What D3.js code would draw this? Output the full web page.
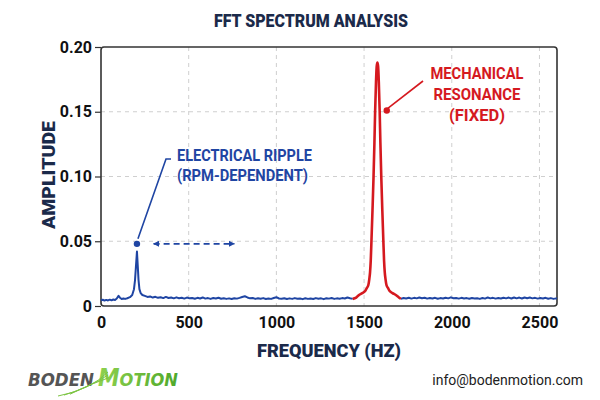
<!doctype html>
<html>
<head>
<meta charset="UTF-8">
<title>FFT Spectrum Analysis</title>
<script src="https://d3js.org/d3.v7.min.js"></script>
<style>
  body { margin: 0; background: #fff; }
  text { font-family: Roboto, "Liberation Sans", sans-serif; }
  .grid line { stroke: #cfcfcf; stroke-dasharray: 4,4; }
  .axis path { display: none; }
  .axis line { stroke: #333; stroke-width: 1.2; }
  .axis text { font-size: 16px; font-weight: bold; fill: #111; }
</style>
</head>
<body>
<svg id="chart" width="600" height="400"></svg>
<script>
// spectrum: [frequency Hz, amplitude]
var lowBand = [
  [0,.0045],[10,.0048],[20,.0042],[30,.0047],[40,.0043],[50,.0049],[60,.0044],[70,.0050],
  [80,.0047],[90,.0058],[100,.0078],[108,.0064],[118,.0054],[128,.0058],[138,.0055],[150,.0060],
  [165,.0068],[178,.0085],[188,.0130],[194,.0200],[199,.0300],[205,.0420],[210,.0300],[214,.0200],
  [219,.0130],[226,.0100],[236,.0085],[250,.0078],[265,.0070],[280,.0074],[295,.0065],[310,.0071],
  [325,.0063],[340,.0068],[355,.0061],[370,.0070],[385,.0062],[400,.0066],[415,.0059],[430,.0067],
  [445,.0060],[460,.0064],[475,.0057],[490,.0065],[505,.0059],[520,.0062],[535,.0056],[550,.0063],
  [565,.0058],[580,.0066],[595,.0057],[610,.0061],[625,.0055],[640,.0062],[655,.0058],[670,.0064],
  [685,.0056],[700,.0060],[715,.0055],[730,.0059],[745,.0054],[760,.0060],[775,.0057],[790,.0063],
  [805,.0070],[820,.0075],[835,.0066],[850,.0059],[865,.0062],[880,.0055],[895,.0060],[910,.0056],
  [925,.0061],[940,.0054],[955,.0058],[970,.0055],[985,.0062],[1000,.0068],[1015,.0058],[1030,.0056],
  [1045,.0060],[1060,.0054],[1075,.0059],[1090,.0055],[1105,.0061],[1120,.0056],[1135,.0058],[1150,.0053],
  [1165,.0060],[1180,.0055],[1195,.0058],[1210,.0054],[1225,.0061],[1240,.0056],[1255,.0059],[1270,.0053],
  [1285,.0060],[1300,.0057],[1315,.0062],[1330,.0055],[1345,.0059],[1360,.0056],[1375,.0061],[1390,.0058],
  [1405,.0066],[1420,.0060],[1435,.0055]
];

var resonance = [
  [1435,.0055],[1455,.0065],[1471,.0085],[1490,.0100],[1506,.0115],[1516,.0140],[1524,.0160],
  [1530,.0210],[1534,.0260],[1538,.0350],[1542,.0500],[1548,.0740],[1554,.1000],[1559,.1260],
  [1563,.1500],[1568,.1730],[1572,.1850],[1576,.1880],[1580,.1850],[1584,.1730],[1589,.1500],
  [1593,.1260],[1598,.1000],[1604,.0740],[1610,.0500],[1614,.0350],[1618,.0260],[1622,.0210],
  [1628,.0160],[1636,.0140],[1646,.0115],[1662,.0100],[1681,.0085],[1697,.0068],[1710,.0055]
];

var highBand = [
  [1710,.0055],[1725,.0062],[1740,.0058],[1755,.0064],[1770,.0057],[1785,.0063],[1800,.0059],
  [1815,.0066],[1830,.0060],[1845,.0064],[1860,.0057],[1875,.0062],[1890,.0058],[1905,.0063],
  [1920,.0056],[1935,.0061],[1950,.0058],[1965,.0064],[1980,.0059],[1995,.0067],[2010,.0060],
  [2025,.0062],[2040,.0057],[2055,.0063],[2070,.0058],[2085,.0061],[2100,.0056],[2115,.0062],
  [2130,.0058],[2145,.0060],[2160,.0055],[2175,.0062],[2190,.0057],[2205,.0066],[2220,.0059],
  [2235,.0063],[2250,.0057],[2265,.0061],[2280,.0058],[2295,.0064],[2310,.0059],[2325,.0065],
  [2340,.0058],[2355,.0066],[2370,.0059],[2385,.0065],[2400,.0058],[2415,.0066],[2430,.0060],
  [2445,.0065],[2460,.0059],[2475,.0063],[2490,.0057],[2505,.0062],[2520,.0058],[2535,.0063],
  [2550,.0056],[2565,.0061],[2580,.0055],[2595,.0059],[2600,.0057]
];

var xTicks = [0, 500, 1000, 1500, 2000, 2500];
var yTicks = [0, 0.05, 0.10, 0.15, 0.20];

// annotation anchors [freq, amplitude]
var ripplePoint = [205, 0.048];
var rippleArrow = [300, 760];
var resonancePoint = [1635, 0.151];

var BLUE = "#1f45a3", RED = "#d5191f", NAVY = "#1b2a4a";

var svg = d3.select("#chart");
var plotL = 101, plotR = 557, plotT = 47, plotB = 306;

var x = d3.scaleLinear().domain([0, 2600]).range([plotL, plotR]);
var y = d3.scaleLinear().domain([0, 0.20]).range([plotB, plotT]);

// title
svg.append("text")
    .attr("x", 311).attr("y", 27)
    .attr("text-anchor", "middle")
    .attr("textLength", 194).attr("lengthAdjust", "spacingAndGlyphs")
    .style("font-size", "19px").style("font-weight", "900")
    .style("fill", NAVY)
    .text("FFT SPECTRUM ANALYSIS");

// grid
var grid = svg.append("g").attr("class", "grid");
grid.selectAll(".gx").data(xTicks.slice(1)).enter().append("line")
    .attr("x1", function (d) { return x(d); }).attr("x2", function (d) { return x(d); })
    .attr("y1", plotT).attr("y2", plotB);
grid.selectAll(".gy").data(yTicks.slice(1, -1)).enter().append("line")
    .attr("y1", function (d) { return y(d); }).attr("y2", function (d) { return y(d); })
    .attr("x1", plotL).attr("x2", plotR);

// axes
svg.append("g").attr("class", "axis")
    .attr("transform", "translate(" + plotL + ",0)")
    .call(d3.axisLeft(y).tickValues(yTicks).tickSize(6).tickPadding(3)
        .tickFormat(function (d) { return d === 0 ? "0" : d3.format(".2f")(d); }));

svg.append("g").attr("class", "axis")
    .attr("transform", "translate(0," + plotB + ")")
    .call(d3.axisBottom(x).tickValues(xTicks).tickSize(0).tickPadding(11)
        .tickFormat(d3.format("d")));

// frame
svg.append("rect")
    .attr("x", plotL).attr("y", plotT)
    .attr("width", plotR - plotL).attr("height", plotB - plotT)
    .attr("rx", 3)
    .attr("fill", "none").attr("stroke", "#333").attr("stroke-width", 1.6);

// axis titles
svg.append("text")
    .attr("x", 329).attr("y", 357)
    .attr("text-anchor", "middle")
    .attr("textLength", 144).attr("lengthAdjust", "spacingAndGlyphs")
    .style("font-size", "19px").style("font-weight", "900").style("fill", NAVY)
    .text("FREQUENCY (HZ)");

svg.append("text")
    .attr("transform", "translate(55,175) rotate(-90)")
    .attr("text-anchor", "middle")
    .attr("textLength", 108).attr("lengthAdjust", "spacingAndGlyphs")
    .style("font-size", "19px").style("font-weight", "900").style("fill", NAVY)
    .text("AMPLITUDE");

// spectrum lines
var line = d3.line()
    .x(function (d) { return x(d[0]); })
    .y(function (d) { return y(d[1]); });

[lowBand, highBand].forEach(function (band) {
    svg.append("path").datum(band)
        .attr("d", line)
        .attr("fill", "none").attr("stroke", BLUE)
        .attr("stroke-width", 2).attr("stroke-linejoin", "round");
});

svg.append("path").datum(resonance)
    .attr("d", line.curve(d3.curveMonotoneX))
    .attr("fill", "none").attr("stroke", RED)
    .attr("stroke-width", 2.6).attr("stroke-linejoin", "round");

// electrical ripple annotation
var defs = svg.append("defs");
defs.append("marker").attr("id", "arrowBlue")
    .attr("viewBox", "0 0 10 10").attr("refX", 9).attr("refY", 5)
    .attr("markerWidth", 4).attr("markerHeight", 4)
    .attr("orient", "auto-start-reverse")
    .append("path").attr("d", "M0,0L10,5L0,10z").attr("fill", BLUE);

svg.append("polyline")
    .attr("points", [[x(ripplePoint[0]) + 1, y(ripplePoint[1]) - 5], [166, 159], [171, 159]].join(" "))
    .attr("fill", "none").attr("stroke", BLUE).attr("stroke-width", 1.6);
svg.append("circle")
    .attr("cx", x(ripplePoint[0])).attr("cy", y(ripplePoint[1]))
    .attr("r", 3.2).attr("fill", BLUE);
svg.append("line")
    .attr("x1", x(rippleArrow[0])).attr("x2", x(rippleArrow[1]))
    .attr("y1", y(ripplePoint[1])).attr("y2", y(ripplePoint[1]))
    .attr("stroke", BLUE).attr("stroke-width", 1.6)
    .attr("stroke-dasharray", "6,4")
    .attr("marker-start", "url(#arrowBlue)")
    .attr("marker-end", "url(#arrowBlue)");

var rippleText = svg.append("text")
    .attr("y", 161)
    .style("font-size", "16px").style("font-weight", "bold").style("fill", BLUE);
rippleText.append("tspan").attr("x", 177).attr("textLength", 135).attr("lengthAdjust", "spacingAndGlyphs").text("ELECTRICAL RIPPLE");
rippleText.append("tspan").attr("x", 177).attr("dy", 20).attr("textLength", 131).attr("lengthAdjust", "spacingAndGlyphs").text("(RPM-DEPENDENT)");

// mechanical resonance annotation
svg.append("line")
    .attr("x1", x(resonancePoint[0])).attr("y1", y(resonancePoint[1]) - 2)
    .attr("x2", 423).attr("y2", 81)
    .attr("stroke", RED).attr("stroke-width", 1.6);
svg.append("circle")
    .attr("cx", x(resonancePoint[0]) - 1).attr("cy", y(resonancePoint[1]))
    .attr("r", 3.2).attr("fill", RED);

var resText = svg.append("text")
    .attr("text-anchor", "middle")
    .style("font-size", "16px").style("font-weight", "bold").style("fill", RED);
[["MECHANICAL", 93], ["RESONANCE", 87], ["(FIXED)", 56]].forEach(function (t, i) {
    resText.append("tspan").attr("x", 477).attr("y", 79 + i * 21)
        .attr("textLength", t[1]).attr("lengthAdjust", "spacingAndGlyphs").text(t[0]);
});

// footer logo
var logo = svg.append("g").attr("transform", "translate(28,0)");
logo.append("text")
    .attr("x", 0).attr("y", 386)
    .attr("textLength", 66).attr("lengthAdjust", "spacingAndGlyphs")
    .style("font-family", "'DejaVu Sans', sans-serif")
    .style("font-size", "18px").style("font-weight", "bold").style("font-style", "italic")
    .style("fill", "#555")
    .text("BODEN");
var grad = defs.append("linearGradient").attr("id", "greenGrad")
    .attr("x1", 0).attr("y1", 0).attr("x2", 1).attr("y2", 0);
grad.append("stop").attr("offset", "0%").attr("stop-color", "#8fd14f");
grad.append("stop").attr("offset", "100%").attr("stop-color", "#4fa82a");
logo.append("text")
    .attr("x", 70).attr("y", 386)
    .attr("textLength", 80).attr("lengthAdjust", "spacingAndGlyphs")
    .style("font-family", "'DejaVu Sans', sans-serif")
    .style("font-weight", "bold").style("font-style", "italic")
    .style("fill", "url(#greenGrad)")
    .call(function (t) {
        t.append("tspan").style("font-size", "24px").text("M");
        t.append("tspan").style("font-size", "18px").text("OTION");
    });
[0, 3, 6].forEach(function (o) {
    logo.append("path")
        .attr("d", "M" + (30 + o * 2) + "," + (396 - o * 0.3) + " Q62," + (390 - o) + " 80," + (372 + o))
        .attr("fill", "none").attr("stroke", "#7cc442").attr("stroke-width", 1);
});

svg.append("text")
    .attr("x", 583).attr("y", 385)
    .attr("text-anchor", "end")
    .style("font-family", "Roboto, sans-serif")
    .style("font-size", "14px").style("fill", "#222")
    .text("info@bodenmotion.com");
</script>
</body>
</html>
